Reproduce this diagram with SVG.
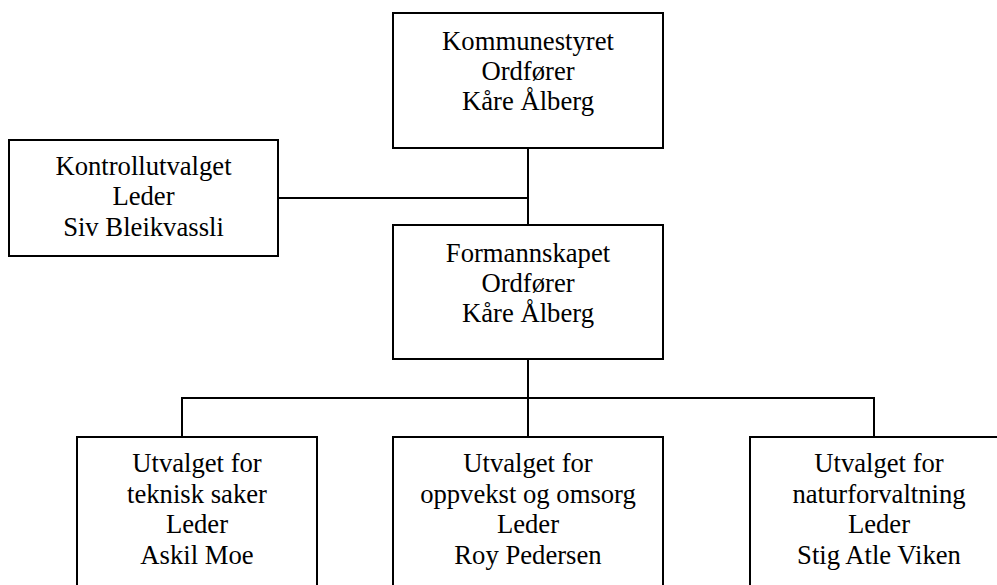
<svg xmlns="http://www.w3.org/2000/svg" width="997" height="585" viewBox="0 0 997 585" font-family="'Liberation Serif', 'Times New Roman', Times, serif">
<style>
.box{fill:#fff;stroke:#000;stroke-width:2}
.conn{fill:none;stroke:#000;stroke-width:2}
.t{font-family:'Liberation Serif','Times New Roman',Times,serif;font-size:26.67px;fill:#000;text-anchor:middle}
</style>
<rect width="997" height="585" fill="#fff"/>
<g id="connectors">
<path class="conn" d="M528,148 V437"/>
<path class="conn" d="M278,198 H528"/>
<path class="conn" d="M182,437 V398 H874 V437"/>
</g>
<g id="kommunestyret" class="t">
<rect class="box" x="393" y="13" width="270" height="135"/>
<text x="528" y="50">Kommunestyret</text>
<text x="528" y="80">Ordfører</text>
<text x="528" y="110">Kåre Ålberg</text>
</g>
<g id="kontrollutvalget" class="t">
<rect class="box" x="9" y="140" width="269" height="116"/>
<text x="143.5" y="175">Kontrollutvalget</text>
<text x="143.5" y="205">Leder</text>
<text x="143.5" y="236">Siv Bleikvassli</text>
</g>
<g id="formannskapet" class="t">
<rect class="box" x="393" y="225" width="270" height="134"/>
<text x="528" y="262">Formannskapet</text>
<text x="528" y="292">Ordfører</text>
<text x="528" y="322">Kåre Ålberg</text>
</g>
<g id="teknisk" class="t">
<rect class="box" x="77" y="437" width="240" height="170"/>
<text x="197" y="472">Utvalget for</text>
<text x="197" y="502.5">teknisk saker</text>
<text x="197" y="533">Leder</text>
<text x="197" y="563.5">Askil Moe</text>
</g>
<g id="oppvekst" class="t">
<rect class="box" x="393" y="437" width="270" height="170"/>
<text x="528" y="472">Utvalget for</text>
<text x="528" y="502.5">oppvekst og omsorg</text>
<text x="528" y="533">Leder</text>
<text x="528" y="563.5">Roy Pedersen</text>
</g>
<g id="naturforvaltning" class="t">
<rect class="box" x="750" y="437" width="258" height="170"/>
<text x="879" y="472">Utvalget for</text>
<text x="879" y="502.5">naturforvaltning</text>
<text x="879" y="533">Leder</text>
<text x="879" y="563.5">Stig Atle Viken</text>
</g>
</svg>
